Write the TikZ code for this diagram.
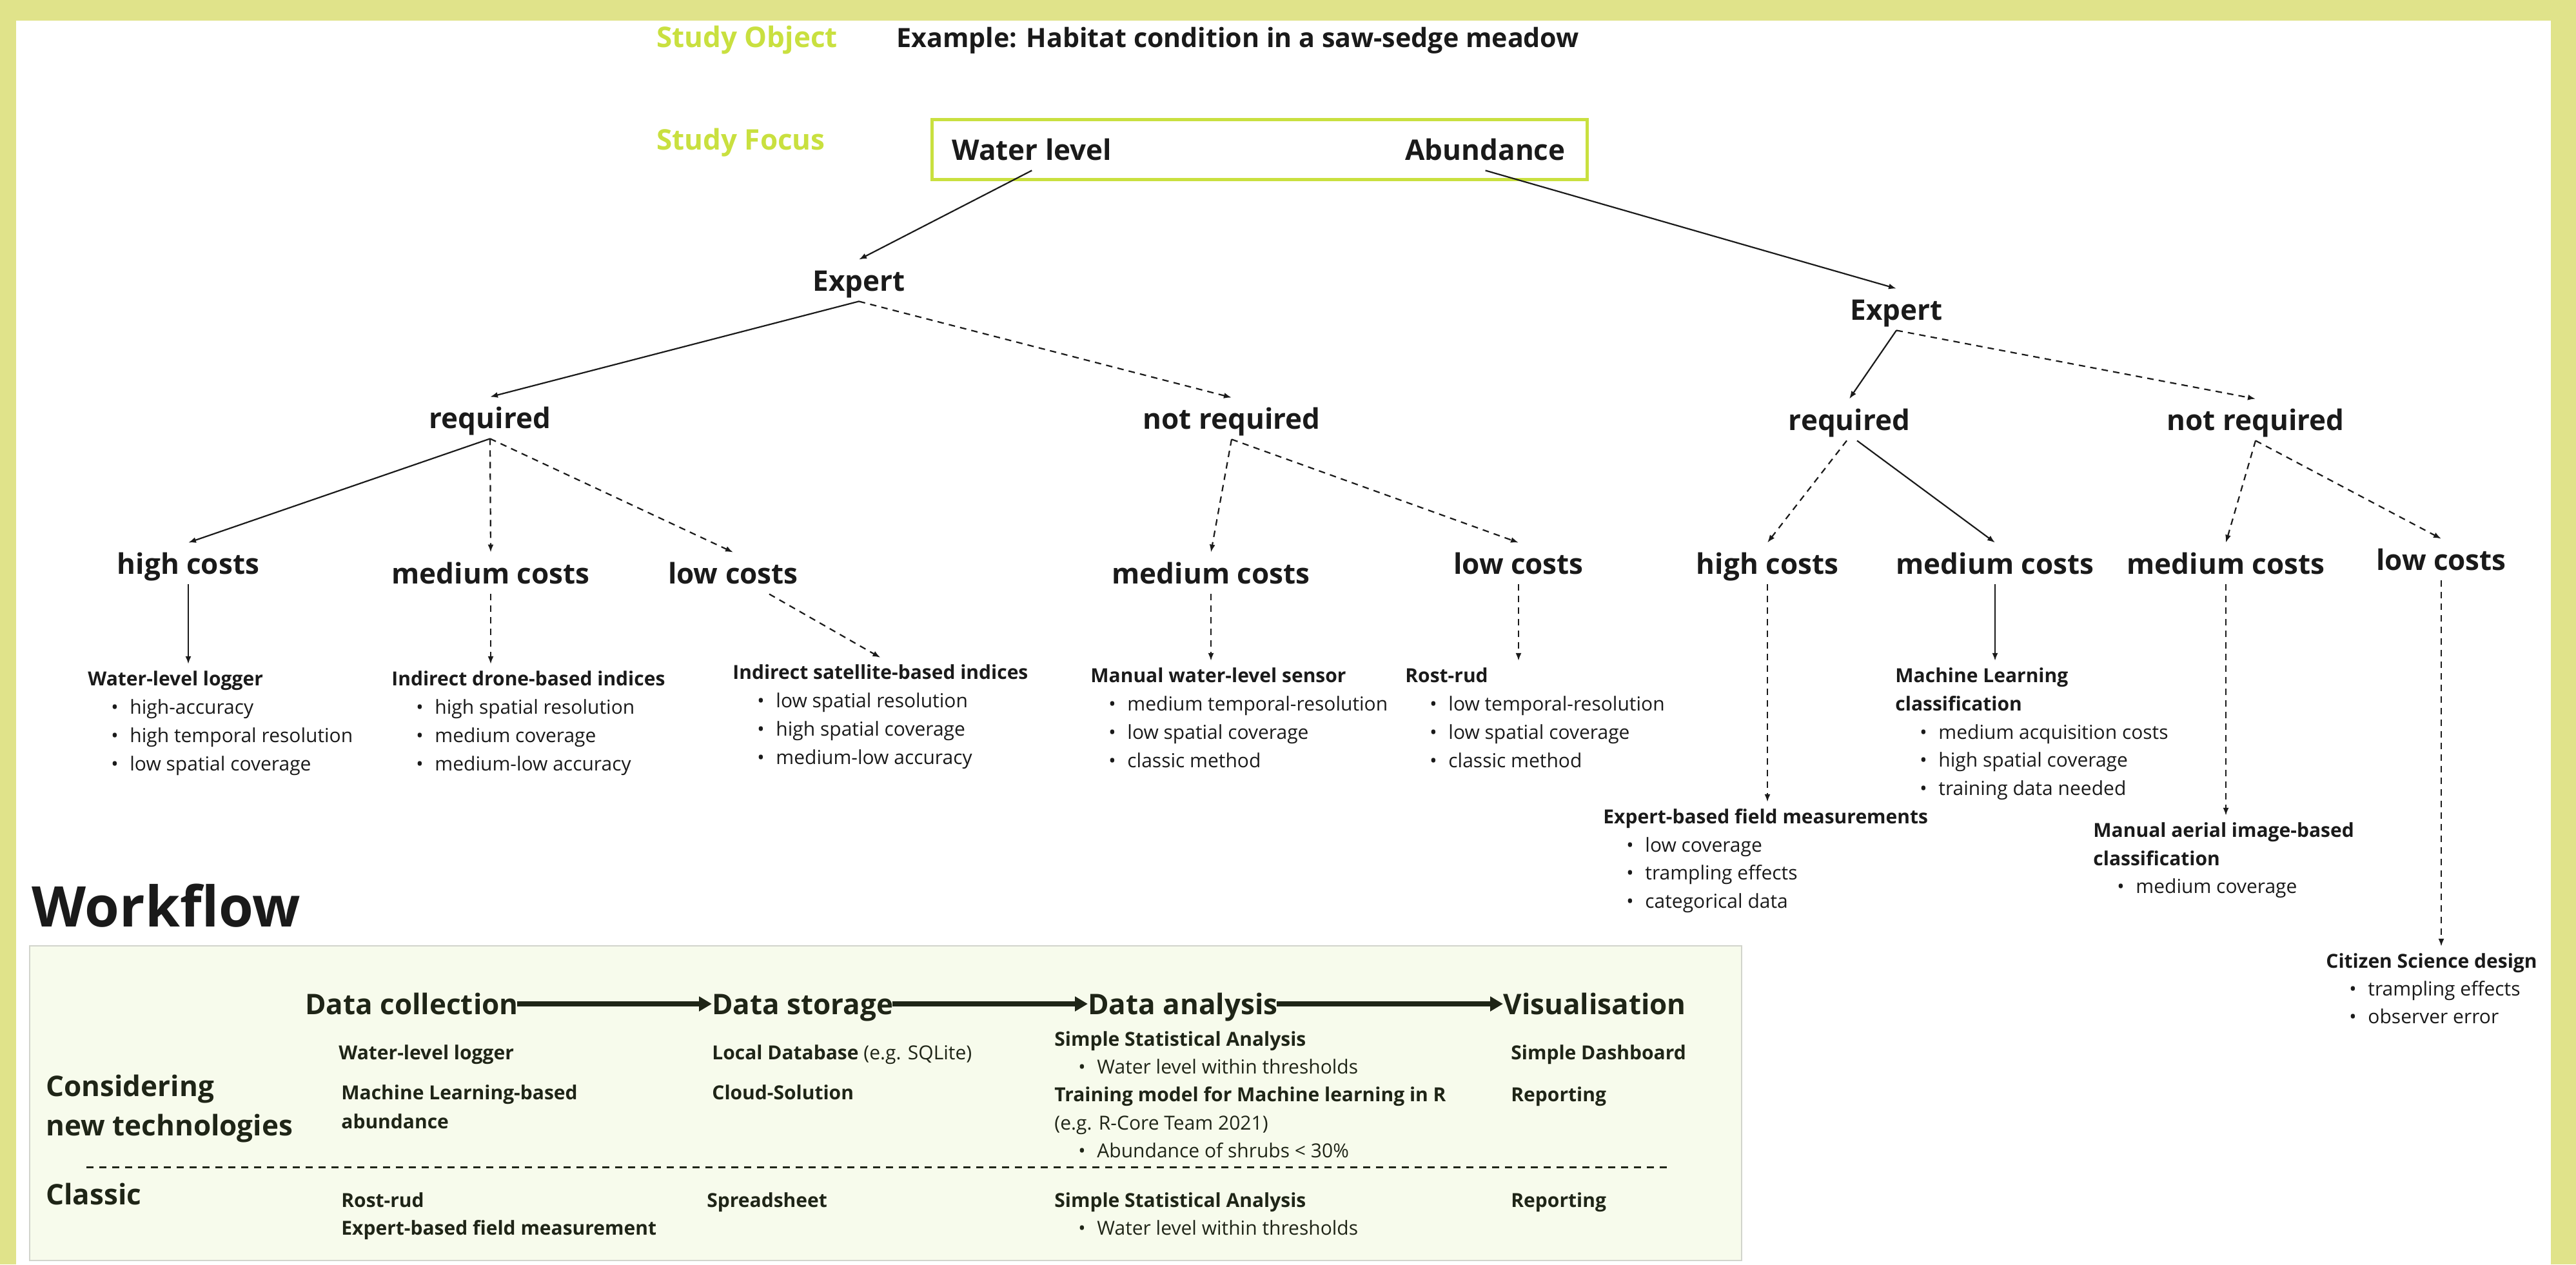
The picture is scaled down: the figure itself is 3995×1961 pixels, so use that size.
\documentclass[tikz,border=0pt]{standalone}
\usepackage{fontspec}
\setmainfont{Open Sans}
\usetikzlibrary{arrows.meta}
\definecolor{frameY}{HTML}{E0E38A}
\definecolor{limeG}{HTML}{C9E03F}
\definecolor{ink}{HTML}{1A1A1A}
\definecolor{wfink}{HTML}{1F2517}
\definecolor{wffill}{HTML}{F7FBEC}
\definecolor{wfborder}{HTML}{D2D4CC}
\begin{document}
\begin{tikzpicture}[x=0.5pt,y=-0.5pt,
  big/.style={font=\fontsize{22}{26}\selectfont\bfseries, text=ink, inner xsep=0pt, inner ysep=8pt, text height=16pt, text depth=0pt},
  lbl/.style={big, anchor=center},
  study/.style={font=\fontsize{22}{26}\selectfont\bfseries, text=limeG, anchor=west, inner sep=0pt, text height=16pt, text depth=0pt},
  hdr/.style={font=\fontsize{15}{18}\selectfont\bfseries, text=ink, anchor=west, inner xsep=0pt, inner ysep=6pt, text height=10.7pt, text depth=0pt},
  bul/.style={font=\fontsize{15}{18}\selectfont, text=ink, anchor=west, inner sep=0pt, text height=10.7pt, text depth=0pt, execute at begin node={\makebox[14.5pt][l]{•}}},
  wftitle/.style={font=\fontsize{43.5}{50}\selectfont\bfseries, text=ink, anchor=west, inner sep=0pt, text height=30pt, text depth=0pt},
  wfh/.style={font=\fontsize{22}{26}\selectfont\bfseries, text=wfink, anchor=west, inner sep=0pt, text height=16pt, text depth=0pt},
  wfi/.style={font=\fontsize{15}{18}\selectfont\bfseries, text=wfink, anchor=west, inner sep=0pt, text height=10.7pt, text depth=0pt},
  wfb/.style={font=\fontsize{15}{18}\selectfont, text=wfink, anchor=west, inner sep=0pt, text height=10.7pt, text depth=0pt, execute at begin node={\makebox[14.5pt][l]{•}}},
  arr/.style={-{Latex[length=6pt,width=4.5pt]}, line width=1.1pt, draw=ink},
  darr/.style={arr, dash pattern=on 5pt off 4pt},
  wfarr/.style={-{Triangle[length=10pt,width=11pt]}, line width=4pt, draw=wfink, shorten <=-1pt}
]
\useasboundingbox (0,0) rectangle (3995,1961);
\fill[frameY] (0,0) rectangle (3995,1961);
\fill[white] (25,32) rectangle (3956,1961);

% header
\node[study] (sobj) at (1018,57) {Study Object};
\node[big, anchor=west, inner ysep=0pt, font=\fontsize{20.6}{24}\selectfont\bfseries] (example) at (1390,57) {Example: Habitat condition in a saw-sedge meadow};
\node[study] (sfoc) at (1018,216) {Study Focus};
\node[draw=limeG, line width=2.5pt, minimum width=508pt, minimum height=46.5pt, inner sep=0pt] (focus) at (1953,231.5) {};
\node[big, anchor=west] (wlv) at (1476,232) {Water level};
\node[big, anchor=east] (abd) at (2428,232) {Abundance};

% tree labels
\node[lbl] (expL) at (1332,435) {Expert};
\node[lbl] (expR) at (2941,480) {Expert};
\node[lbl] (reqL) at (760,648) {required};
\node[lbl] (nreqL) at (1910,649) {not required};
\node[lbl] (reqR) at (2868,651) {required};
\node[lbl] (nreqR) at (3498,651) {not required};
\node[lbl] (highL) at (292,874) {high costs};
\node[lbl] (medL) at (761,889) {medium costs};
\node[lbl] (lowL) at (1137,889) {low costs};
\node[lbl] (medL4) at (1878,889) {medium costs};
\node[lbl] (lowL5) at (2355,874) {low costs};
\node[lbl] (highR) at (2741,874) {high costs};
\node[lbl] (medR) at (3094,874) {medium costs};
\node[lbl] (medR3) at (3452,874) {medium costs};
\node[lbl] (lowR) at (3786,868) {low costs};

% detail blocks
\node[hdr] (wl) at (136,1053) {Water-level logger};
\foreach \t [count=\i] in {high-accuracy, high temporal resolution, low spatial coverage}
  \node[bul] (wl\i) at (172,{1053+44*\i}) {\t};
\node[hdr] (drone) at (607,1053) {Indirect drone-based indices};
\foreach \t [count=\i] in {high spatial resolution, medium coverage, medium-low accuracy}
  \node[bul] (drone\i) at (645,{1053+44*\i}) {\t};
\node[hdr] (sat) at (1136,1043) {Indirect satellite-based indices};
\foreach \t [count=\i] in {low spatial resolution, high spatial coverage, medium-low accuracy}
  \node[bul] (sat\i) at (1174,{1043+44*\i}) {\t};
\node[hdr] (mws) at (1691,1048) {Manual water-level sensor};
\foreach \t [count=\i] in {medium temporal-resolution, low spatial coverage, classic method}
  \node[bul] (mws\i) at (1719,{1048+44*\i}) {\t};
\node[hdr] (rost) at (2179,1048) {Rost-rud};
\foreach \t [count=\i] in {low temporal-resolution, low spatial coverage, classic method}
  \node[bul] (rost\i) at (2217,{1048+44*\i}) {\t};
\node[hdr] (ml) at (2939,1048) {Machine Learning};
\node[hdr] (mlb) at (2939,1092) {classification};
\foreach \t [count=\i] in {medium acquisition costs, high spatial coverage, training data needed}
  \node[bul] (ml\i) at (2977,{1092+43.5*\i}) {\t};
\node[hdr] (ebf) at (2486,1267) {Expert-based field measurements};
\foreach \t [count=\i] in {low coverage, trampling effects, categorical data}
  \node[bul] (ebf\i) at (2522,{1267+43.5*\i}) {\t};
\node[hdr] (mai) at (3246,1288) {Manual aerial image-based};
\node[hdr] (maib) at (3246,1332) {classification};
\node[bul] (mai1) at (3283,1375) {medium coverage};
\node[hdr] (cs) at (3607,1491) {Citizen Science design};
\foreach \t [count=\i] in {trampling effects, observer error}
  \node[bul] (cs\i) at (3643,{1491+43*\i}) {\t};

% connectors
\draw[arr] (wlv.south) -- (expL.north);
\draw[arr] (abd.south) -- (expR.north);
\draw[arr] (expL.south) -- (reqL.north);
\draw[darr] (expL.south) -- (nreqL.north);
\draw[arr] (expR.south) -- (reqR.north);
\draw[darr] (expR.south) -- (nreqR.north);
\draw[arr] (reqL.south) -- (highL.north);
\draw[darr] (reqL.south) -- (medL.north);
\draw[darr] (reqL.south) -- (lowL.north);
\draw[darr] (nreqL.south) -- (medL4.north);
\draw[darr] (nreqL.south) -- (lowL5.north);
\draw[darr] ([xshift=-2pt]reqR.south) -- (highR.north);
\draw[arr] ([xshift=6pt]reqR.south) -- (medR.north);
\draw[darr] (nreqR.south) -- (medR3.north);
\draw[darr] (nreqR.south) -- (lowR.north);

\draw[arr] (highL.south) -- (highL.south |- wl.north);
\draw[darr] (medL.south) -- (medL.south |- drone.north);
\draw[darr] ([xshift=28pt]lowL.south) -- (sat.north);
\draw[darr] (medL4.south) -- (medL4.south |- mws.north);
\draw[darr] (lowL5.south) -- (lowL5.south |- rost.north);
\draw[darr] (highR.south) -- (highR.south |- ebf.north);
\draw[arr] (medR.south) -- (medR.south |- ml.north);
\draw[darr] (medR3.south) -- (medR3.south |- mai.north);
\draw[darr] (lowR.south) -- (lowR.south |- cs.north);

% workflow
\node[wftitle] (wft) at (49,1407) {Workflow};
\node[draw=wfborder, fill=wffill, line width=1pt, minimum width=1327.5pt, minimum height=244pt, inner sep=0pt] (wfbox) at (1373.5,1711) {};

\node[wfh] (dcol) at (473,1557) {Data collection};
\node[wfh] (dsto) at (1104,1557) {Data storage};
\node[wfh] (dana) at (1687,1557) {Data analysis};
\node[wfh] (dvis) at (2331,1557) {Visualisation};
\draw[wfarr] (dcol.east) -- (dsto.west);
\draw[wfarr] (dsto.east) -- (dana.west);
\draw[wfarr] (dana.east) -- (dvis.west);

\node[wfh] (cons1) at (71,1684) {Considering};
\node[wfh] (cons2) at (71,1745) {new technologies};
\node[wfh] (clas) at (71,1852) {Classic};

\node[wfi] (c1) at (525,1633) {Water-level logger};
\node[wfi] (c2) at (529,1695) {Machine Learning-based};
\node[wfi] (c3) at (529,1740) {abundance};
\node[wfi] (s1) at (1104,1633) {Local Database \mdseries(e.g. SQLite)};
\node[wfi] (s2) at (1104,1695) {Cloud-Solution};
\node[wfi] (a1) at (1635,1612) {Simple Statistical Analysis};
\node[wfb] (a1b) at (1672,1655) {Water level within thresholds};
\node[wfi] (a2) at (1635,1698) {Training model for Machine learning in R};
\node[wfi] (a3) at (1635,1742) {\mdseries(e.g. R-Core Team 2021)};
\node[wfb] (a3b) at (1672,1785) {Abundance of shrubs < 30\%};
\node[wfi] (v1) at (2343,1633) {Simple Dashboard};
\node[wfi] (v2) at (2343,1698) {Reporting};

\coordinate (sepL) at (134,1810);
\coordinate (sepR) at (2590,1810);
\draw[wfink, line width=1.5pt, dash pattern=on 5.5pt off 4.5pt] (sepL) -- (sepR);

\node[wfi] (k1) at (529,1862) {Rost-rud};
\node[wfi] (k2) at (529,1905) {Expert-based field measurement};
\node[wfi] (k3) at (1096,1862) {Spreadsheet};
\node[wfi] (k4) at (1635,1862) {Simple Statistical Analysis};
\node[wfb] (k5) at (1672,1905) {Water level within thresholds};
\node[wfi] (k6) at (2343,1862) {Reporting};
\end{tikzpicture}
\end{document}
